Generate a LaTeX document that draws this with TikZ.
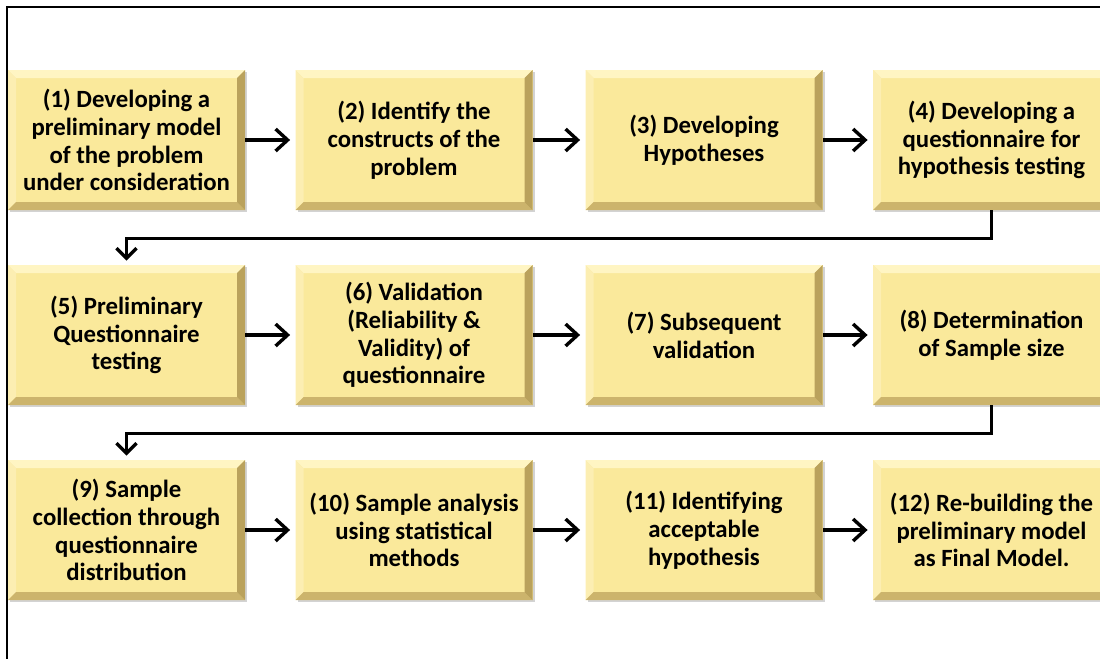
\documentclass[tikz,border=0pt]{standalone}
\usepackage{fontspec}
\setmainfont{Carlito}
\usetikzlibrary{arrows.meta,shadows}

\definecolor{boxfill}{RGB}{250,233,155}
\definecolor{bevellight}{RGB}{255,245,195}
\definecolor{bevelside}{RGB}{252,238,178}
\definecolor{beveldark}{RGB}{204,180,108}
\definecolor{bevelright}{RGB}{186,162,92}

\tikzset{
  stepbox/.style={
    minimum width=118.5pt, minimum height=70pt, inner sep=0pt,
    fill=boxfill, align=center,
    font=\fontsize{12.4}{13.9}\selectfont\bfseries,
    drop shadow={shadow xshift=1pt, shadow yshift=-1pt, opacity=0.35, fill=gray},
    path picture={
      \def\b{4pt}
      % top and left bevel
      \fill[bevellight] (path picture bounding box.north west) -- (path picture bounding box.north east)
        -- ([xshift=-\b,yshift=-\b]path picture bounding box.north east)
        -- ([xshift=\b,yshift=-\b]path picture bounding box.north west) -- cycle;
      \fill[bevelside] (path picture bounding box.north west) -- (path picture bounding box.south west)
        -- ([xshift=\b,yshift=\b]path picture bounding box.south west)
        -- ([xshift=\b,yshift=-\b]path picture bounding box.north west) -- cycle;
      % bottom and right bevel
      \fill[beveldark] (path picture bounding box.south west) -- (path picture bounding box.south east)
        -- ([xshift=-\b,yshift=\b]path picture bounding box.south east)
        -- ([xshift=\b,yshift=\b]path picture bounding box.south west) -- cycle;
      \fill[bevelright] (path picture bounding box.north east) -- (path picture bounding box.south east)
        -- ([xshift=-\b,yshift=\b]path picture bounding box.south east)
        -- ([xshift=-\b,yshift=-\b]path picture bounding box.north east) -- cycle;
    }
  },
  flow/.style={line width=1.7pt, -{Straight Barb[length=6pt,width=11pt]}, shorten >=2.5pt},
  turn/.style={line width=1.7pt, -{Straight Barb[length=5pt,width=10pt]}, shorten >=2pt}
}

\begin{document}
\begin{tikzpicture}[x=0.5pt, y=-0.5pt]
  \clip (0,0) rectangle (1100,659);
  \useasboundingbox (0,0) rectangle (1100,659);

  % Frame
  \draw[line width=0.8pt] (7,659) -- (7,7) -- (1100,7);

  % Row 1
  \node[stepbox] (b1) at (126.5,140) {(1) Developing a\\preliminary model\\of the problem\\under consideration};
  \node[stepbox] (b2) at (414,140) {(2) Identify the\\constructs of the\\problem};
  \node[stepbox] (b3) at (704,140) {(3) Developing\\Hypotheses};
  \node[stepbox] (b4) at (991.5,140) {(4) Developing a\\questionnaire for\\hypothesis testing};

  % Row 2
  \node[stepbox] (b5) at (126.5,335) {(5) Preliminary\\Questionnaire\\testing};
  \node[stepbox] (b6) at (414,335) {(6) Validation\\(Reliability \&\\Validity) of\\questionnaire};
  \node[stepbox] (b7) at (704,335) {(7) Subsequent\\validation};
  \node[stepbox] (b8) at (991.5,335) {(8) Determination\\of Sample size};

  % Row 3
  \node[stepbox] (b9) at (126.5,530) {(9) Sample\\collection through\\questionnaire\\distribution};
  \node[stepbox] (b10) at (414,530) {(10) Sample analysis\\using statistical\\methods};
  \node[stepbox] (b11) at (704,530) {(11) Identifying\\acceptable\\hypothesis};
  \node[stepbox] (b12) at (991.5,530) {(12) Re-building the\\preliminary model\\as Final Model.};

  % Arrows within rows
  \draw[flow] (b1) -- (b2);
  \draw[flow] (b2) -- (b3);
  \draw[flow] (b3) -- (b4);
  \draw[flow] (b5) -- (b6);
  \draw[flow] (b6) -- (b7);
  \draw[flow] (b7) -- (b8);
  \draw[flow] (b9) -- (b10);
  \draw[flow] (b10) -- (b11);
  \draw[flow] (b11) -- (b12);

  % Arrows between rows
  \draw[turn] (b4.south) -- ++(0,28) -| (b5.north);
  \draw[turn] (b8.south) -- ++(0,28) -| (b9.north);
\end{tikzpicture}
\end{document}
